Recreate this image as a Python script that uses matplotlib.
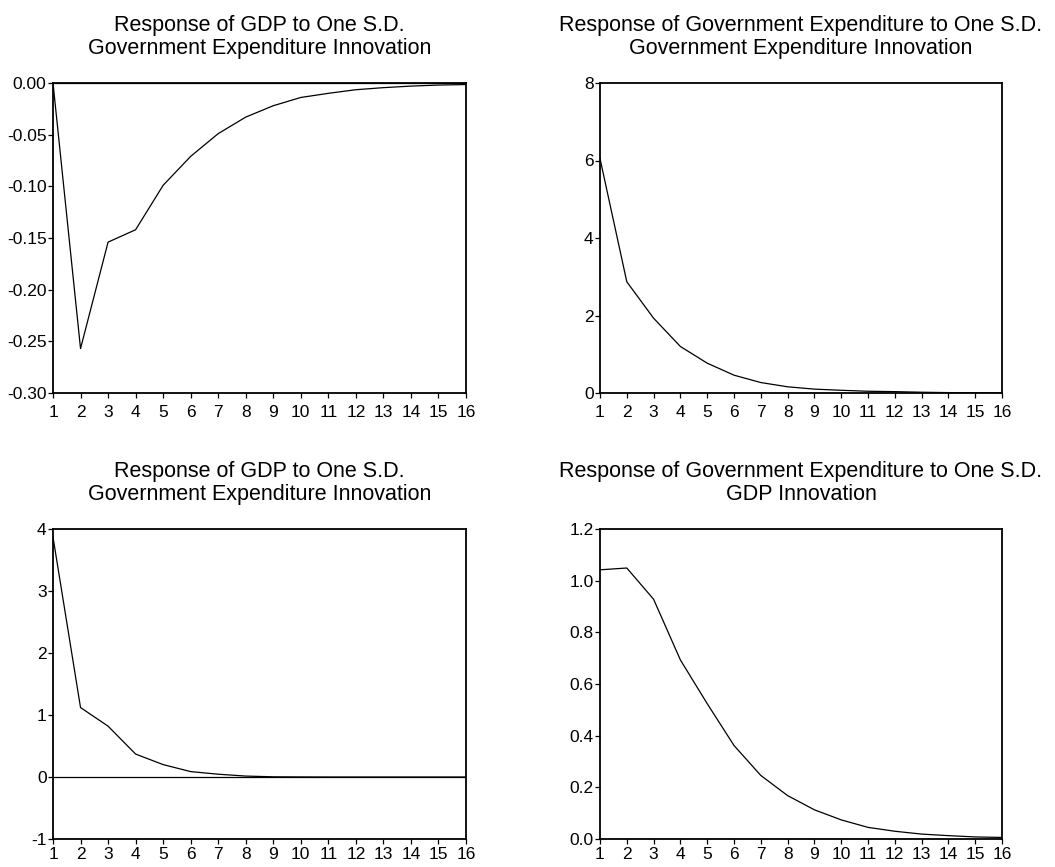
import matplotlib
matplotlib.use("Agg")
import matplotlib.pyplot as plt
from matplotlib.ticker import FormatStrFormatter

plt.rcParams['font.family'] = ['Liberation Sans', 'DejaVu Sans']

periods = list(range(1, 17))

# impulse responses
gdp_to_gov = [0.0, -0.257, -0.154, -0.142, -0.099, -0.071, -0.049, -0.033,
              -0.022, -0.014, -0.010, -0.0065, -0.0045, -0.003, -0.002, -0.0015]
gov_to_gov = [6.05, 2.87, 1.93, 1.20, 0.77, 0.46, 0.27, 0.16,
              0.10, 0.07, 0.045, 0.035, 0.02, 0.01, 0.005, 0.003]
gdp_to_gov2 = [3.87, 1.12, 0.82, 0.37, 0.20, 0.087, 0.045, 0.015,
               0.003, 0.001, 0.0, 0.0, 0.0, 0.0, 0.0, 0.0]
gov_to_gdp = [1.042, 1.049, 0.928, 0.693, 0.524, 0.362, 0.246, 0.168,
              0.113, 0.074, 0.045, 0.030, 0.019, 0.013, 0.008, 0.006]

titles = [
    "Response of GDP to One S.D.\nGovernment Expenditure Innovation",
    "Response of Government Expenditure to One S.D.\nGovernment Expenditure Innovation",
    "Response of GDP to One S.D.\nGovernment Expenditure Innovation",
    "Response of Government Expenditure to One S.D.\nGDP Innovation",
]
series = [gdp_to_gov, gov_to_gov, gdp_to_gov2, gov_to_gdp]
ylims = [(-0.30, 0.0), (0, 8), (-1, 4), (0.0, 1.2)]
yticks = [
    [-0.30, -0.25, -0.20, -0.15, -0.10, -0.05, 0.00],
    [0, 2, 4, 6, 8],
    [-1, 0, 1, 2, 3, 4],
    [0.0, 0.2, 0.4, 0.6, 0.8, 1.0, 1.2],
]
fmts = ["%.2f", "%d", "%d", "%.1f"]

W, H = 1055, 867
fig = plt.figure(figsize=(W / 100, H / 100), dpi=100)

# axes boxes in pixels: left, top, right, bottom
boxes = [(53, 83, 466, 393), (600, 83, 1002, 393),
         (53, 529, 466, 839), (600, 529, 1002, 839)]
xpads = [5, 5, 2.3, 2.3]

for box, title, y, lim, yt, fmt, xp in zip(boxes, titles, series, ylims,
                                           yticks, fmts, xpads):
    l, t, r, b = box
    ax = fig.add_axes([l / W, 1 - b / H, (r - l) / W, (b - t) / H])
    ax.axhline(0, color='black', lw=0.9)
    ax.plot(periods, y, color='black', lw=0.9)
    ax.set_xlim(1, 16)
    ax.set_ylim(*lim)
    ax.set_xticks(periods)
    ax.set_yticks(yt)
    ax.yaxis.set_major_formatter(FormatStrFormatter(fmt))
    ax.tick_params(direction='out', length=3.6, width=0.9, labelsize=12.5,
                   pad=1, colors='black')
    ax.tick_params(axis='x', pad=xp)
    for s in ax.spines.values():
        s.set_linewidth(1.3)
    ax.set_title(title, fontsize=15.5, pad=21, linespacing=1.1)

fig.savefig("out.png", dpi=100)
